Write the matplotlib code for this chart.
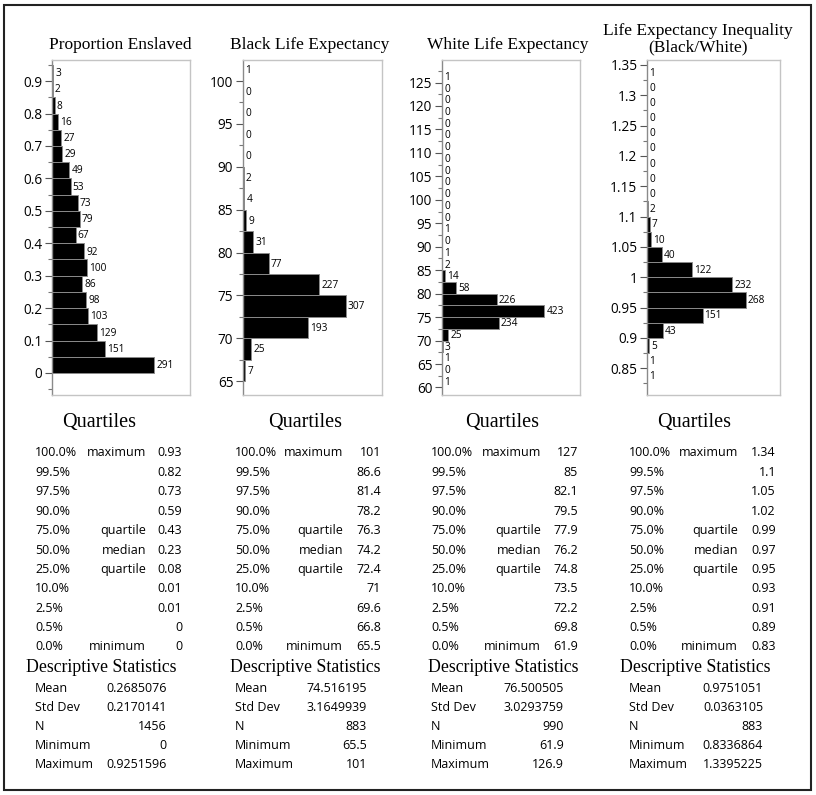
import matplotlib.pyplot as plt
import numpy as np
from matplotlib.patches import Rectangle
from matplotlib.ticker import MultipleLocator, FuncFormatter

W, H = 816, 795   # figure size in px

## Histogram data (counts listed from lowest bin upward)
titles = ["Proportion Enslaved", "Black Life Expectancy",
          "White Life Expectancy", "Life Expectancy Inequality\n(Black/White)"]
enslaved_counts = [291, 151, 129, 103, 98, 86, 100, 92, 67, 79, 73, 53, 49,
                   29, 27, 16, 8, 2, 3]
black_counts = [7, 25, 193, 307, 227, 77, 31, 9, 4, 2, 0, 0, 0, 0, 1]
white_counts = [1, 0, 1, 3, 25, 234, 423, 226, 58, 14, 2, 1, 0, 1,
                0, 0, 0, 0, 0, 0, 0, 0, 0, 0, 0, 0, 1]
ratio_counts = [1, 1, 5, 43, 151, 268, 232, 122, 40, 10, 7, 2,
                0, 0, 0, 0, 0, 0, 0, 0, 1]
bin_start = [0.0, 65.0, 60.0, 0.825]
bin_width = [0.05, 2.5, 2.5, 0.025]

## Quartile tables
q_levels = ["100.0%", "99.5%", "97.5%", "90.0%", "75.0%", "50.0%",
            "25.0%", "10.0%", "2.5%", "0.5%", "0.0%"]
q_names = ["maximum", "", "", "", "quartile", "median", "quartile",
           "", "", "", "minimum"]
enslaved_q = ["0.93", "0.82", "0.73", "0.59", "0.43", "0.23", "0.08",
              "0.01", "0.01", "0", "0"]
black_q = ["101", "86.6", "81.4", "78.2", "76.3", "74.2", "72.4", "71",
           "69.6", "66.8", "65.5"]
white_q = ["127", "85", "82.1", "79.5", "77.9", "76.2", "74.8", "73.5",
           "72.2", "69.8", "61.9"]
ratio_q = ["1.34", "1.1", "1.05", "1.02", "0.99", "0.97", "0.95", "0.93",
           "0.91", "0.89", "0.83"]

## Descriptive statistics
d_names = ["Mean", "Std Dev", "N", "Minimum", "Maximum"]
enslaved_d = ["0.2685076", "0.2170141", "1456", "0", "0.9251596"]
black_d = ["74.516195", "3.1649939", "883", "65.5", "101"]
white_d = ["76.500505", "3.0293759", "990", "61.9", "126.9"]
ratio_d = ["0.9751051", "0.0363105", "883", "0.8336864", "1.3395225"]

all_counts = [enslaved_counts, black_counts, white_counts, ratio_counts]
all_q = [enslaved_q, black_q, white_q, ratio_q]
all_d = [enslaved_d, black_d, white_d, ratio_d]

# layout (px)
box_left = [52, 243, 442, 647]
box_right = [190, 382, 580, 780]
box_top, box_bot = 60, 395
ylims = [(-0.068, 0.965), (63.4, 102.45), (58.4, 129.8), (0.806, 1.358)]
major = [0.1, 5, 5, 0.05]
title_x = [120, 310, 508, 698]
q_left = [35, 235, 431, 629]
q_mid = [146, 343, 541, 738]
q_right = [182, 381, 578, 776]
q_title_x = [99, 305, 502, 694]
d_right = [167, 367, 564, 763]
d_title_x = [101, 305, 503, 695]

serif = "Liberation Serif"
sans = "Open Sans"
tsize = 9.0

def fx(px):
    return px / W

def fy(py):
    return 1 - py / H

def fmt(v, pos):
    return "%g" % round(v, 4)

fig = plt.figure(figsize=(W / 100, H / 100), dpi=100)

for i in range(4):
    counts = np.array(all_counts[i])
    lo = bin_start[i]; bw = bin_width[i]
    centers = lo + bw * (np.arange(len(counts)) + 0.5)
    ax = fig.add_axes([fx(box_left[i]), fy(box_bot),
                       fx(box_right[i] - box_left[i]), (box_bot - box_top) / H])
    ax.barh(centers, counts, height=bw, color="black",
            edgecolor="#8a8a8a", linewidth=0.7)
    for c, y in zip(counts, centers):
        ax.annotate(str(c), (c, y), xytext=(1.5, -0.5), textcoords="offset points",
                    va="center", ha="left", fontsize=7.3, family=sans)
    ax.set_xlim(0, counts.max() * 1.35)
    ax.set_ylim(*ylims[i])
    ax.yaxis.set_major_locator(MultipleLocator(major[i]))
    ax.yaxis.set_minor_locator(MultipleLocator(major[i] / 2))
    ax.yaxis.set_major_formatter(FuncFormatter(fmt))
    ax.set_xticks([])
    ax.tick_params(axis="y", which="major", length=5, width=0.8,
                   color="#555555", labelsize=9.8, pad=2)
    ax.tick_params(axis="y", which="minor", length=3, width=0.8, color="#777777")
    for lab in ax.get_yticklabels():
        lab.set_family(sans)
    for s in ["top", "right", "bottom"]:
        ax.spines[s].set_color("#c4c4c4")
        ax.spines[s].set_linewidth(1.0)
    ax.spines["left"].set_color("#8a8a8a")
    ax.spines["left"].set_linewidth(1.0)

    # panel title
    if "\n" in titles[i]:
        fig.text(fx(title_x[i]), fy(39), titles[i], ha="center", va="center",
                 fontsize=12.5, family=serif, linespacing=1.0)
    else:
        fig.text(fx(title_x[i]), fy(45), titles[i], ha="center", va="center",
                 fontsize=12.5, family=serif)

    # quartiles table
    fig.text(fx(q_title_x[i]), fy(422), "Quartiles", ha="center", va="center",
             fontsize=14.5, family=serif)
    for r in range(len(q_levels)):
        y = fy(453 + r * 19.4)
        fig.text(fx(q_left[i]), y, q_levels[r], ha="left", va="center",
                 fontsize=tsize, family=sans)
        if q_names[r]:
            fig.text(fx(q_mid[i]), y, q_names[r], ha="right", va="center",
                     fontsize=tsize, family=sans)
        fig.text(fx(q_right[i]), y, all_q[i][r], ha="right", va="center",
                 fontsize=tsize, family=sans)

    # descriptive statistics
    fig.text(fx(d_title_x[i]), fy(668), "Descriptive Statistics", ha="center",
             va="center", fontsize=12.8, family=serif)
    for r in range(len(d_names)):
        y = fy(689 + r * 18.75)
        fig.text(fx(q_left[i]), y, d_names[r], ha="left", va="center",
                 fontsize=tsize, family=sans)
        fig.text(fx(d_right[i]), y, all_d[i][r], ha="right", va="center",
                 fontsize=tsize, family=sans)

# outer frame
fig.patches.append(Rectangle((fx(4), fy(790)), fx(807), 785 / H,
                             transform=fig.transFigure, fill=False,
                             edgecolor="#222222", linewidth=1.5))

fig.savefig("out.png", dpi=100)
